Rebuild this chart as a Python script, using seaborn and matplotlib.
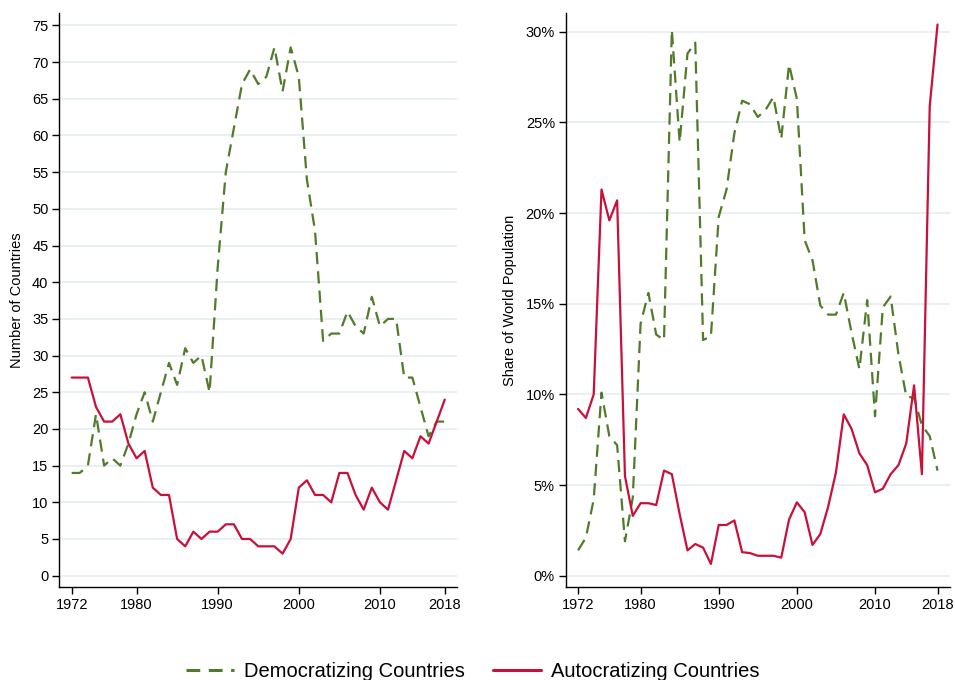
import matplotlib
matplotlib.use("Agg")
import matplotlib.pyplot as plt
from matplotlib.lines import Line2D
from matplotlib.ticker import FuncFormatter
import numpy as np
import pandas as pd
import seaborn as sns

years = list(range(1972, 2019))

# Number of countries in each episode type
demo_count = [14, 14, 15, 22, 15, 16, 15, 18, 22, 25, 21, 25, 29, 26, 31, 29, 30, 25,
              42, 55, 61, 67, 69, 67, 68, 72, 66, 72, 68, 54, 47, 32, 33, 33, 36, 34,
              33, 38, 34, 35, 35, 27, 27, 23, 19, 21, 21]
auto_count = [27, 27, 27, 23, 21, 21, 22, 18, 16, 17, 12, 11, 11, 5, 4, 6, 5, 6,
              6, 7, 7, 5, 5, 4, 4, 4, 3, 5, 12, 13, 11, 11, 10, 14, 14, 11,
              9, 12, 10, 9, 13, 17, 16, 19, 18, 21, 24]

# Share of world population (%) living in those countries
demo_share = [1.4, 2.1, 4.2, 10.1, 7.7, 7.2, 1.9, 4.3, 13.9, 15.6, 13.3, 13.0, 30.1,
              23.9, 28.8, 29.4, 13.0, 13.2, 19.8, 21.3, 24.4, 26.2, 26.0, 25.3, 25.7,
              26.4, 24.1, 28.2, 26.3, 18.5, 17.4, 14.9, 14.4, 14.4, 15.6, 13.4, 11.4,
              15.2, 8.8, 14.8, 15.4, 12.2, 9.9, 9.8, 8.3, 7.7, 5.8]
auto_share = [9.2, 8.7, 10.0, 21.3, 19.6, 20.7, 5.5, 3.3, 4.0, 4.0, 3.9, 5.8, 5.6,
              3.4, 1.4, 1.75, 1.55, 0.65, 2.8, 2.8, 3.05, 1.3, 1.25, 1.1, 1.1, 1.1,
              1.0, 3.1, 4.05, 3.5, 1.7, 2.3, 3.8, 5.7, 8.9, 8.1, 6.75, 6.1, 4.6,
              4.8, 5.6, 6.1, 7.3, 10.5, 5.6, 25.9, 30.4]

series = ["Democratizing Countries", "Autocratizing Countries"]
xticks = [1972, 1980, 1990, 2000, 2010, 2018]

df = pd.DataFrame({
    "year": years * 2,
    "type": [series[0]] * len(years) + [series[1]] * len(years),
    "count": demo_count + auto_count,
    "share": demo_share + auto_share,
})

GREEN = "#517A2B"
RED = "#C8103A"
GRID = "#E9F0F2"
DASH = (5.5, 3.2)
palette = {series[0]: GREEN, series[1]: RED}
dash_map = {series[0]: DASH, series[1]: ""}

sns.set_theme(style="white")
plt.rcParams["font.family"] = ["Liberation Sans", "DejaVu Sans"]
plt.rcParams["text.color"] = "black"
plt.rcParams["axes.labelcolor"] = "black"
plt.rcParams["xtick.color"] = "black"
plt.rcParams["ytick.color"] = "black"

fig = plt.figure(figsize=(9.55, 6.8), dpi=100)
ax1 = fig.add_axes([0.0623, 0.1368, 0.4162, 0.8442])
ax2 = fig.add_axes([0.5927, 0.1368, 0.4021, 0.8442])

for ax, col in ((ax1, "count"), (ax2, "share")):
    sns.lineplot(data=df, x="year", y=col, hue="type", style="type",
                 palette=palette, dashes=dash_map, linewidth=1.6,
                 legend=False, ax=ax, zorder=3)
    for s in ("top", "right"):
        ax.spines[s].set_visible(False)
    for s in ("left", "bottom"):
        ax.spines[s].set_color("black")
        ax.spines[s].set_linewidth(1.0)
    ax.set_xticks(xticks)
    ax.tick_params(axis="both", which="major", direction="out", length=5,
                   width=1.0, color="black", labelcolor="black",
                   labelsize=10.5, pad=3, bottom=True, left=True)
    ax.grid(axis="y", color=GRID, linewidth=1.4, zorder=0)
    ax.grid(axis="x", visible=False)
    ax.set_xlabel("")

ax1.set_xlim(1970.5, 2019.5)
ax1.set_ylim(-1.54, 76.7)
ax1.set_yticks(range(0, 80, 5))
ax1.set_ylabel("Number of Countries", fontsize=10.5, labelpad=6, color="black")

ax2.set_xlim(1970.46, 2019.6)
ax2.set_ylim(-0.62, 31.04)
ax2.set_yticks(range(0, 35, 5))
ax2.yaxis.set_major_formatter(FuncFormatter(lambda v, _: f"{v:.0f}%"))
ax2.set_ylabel("Share of World Population", fontsize=10.5, labelpad=6, color="black")

handles = [
    Line2D([0], [0], color=GREEN, linewidth=2.2, dashes=(4.5, 2.8)),
    Line2D([0], [0], color=RED, linewidth=2.2),
]
fig.legend(handles, series, loc="center", bbox_to_anchor=(0.495, 0.013),
           ncol=2, frameon=False, fontsize=14.5, handlelength=2.4,
           handletextpad=0.5, columnspacing=1.4, labelcolor="black")

fig.savefig("out.png", dpi=100)
